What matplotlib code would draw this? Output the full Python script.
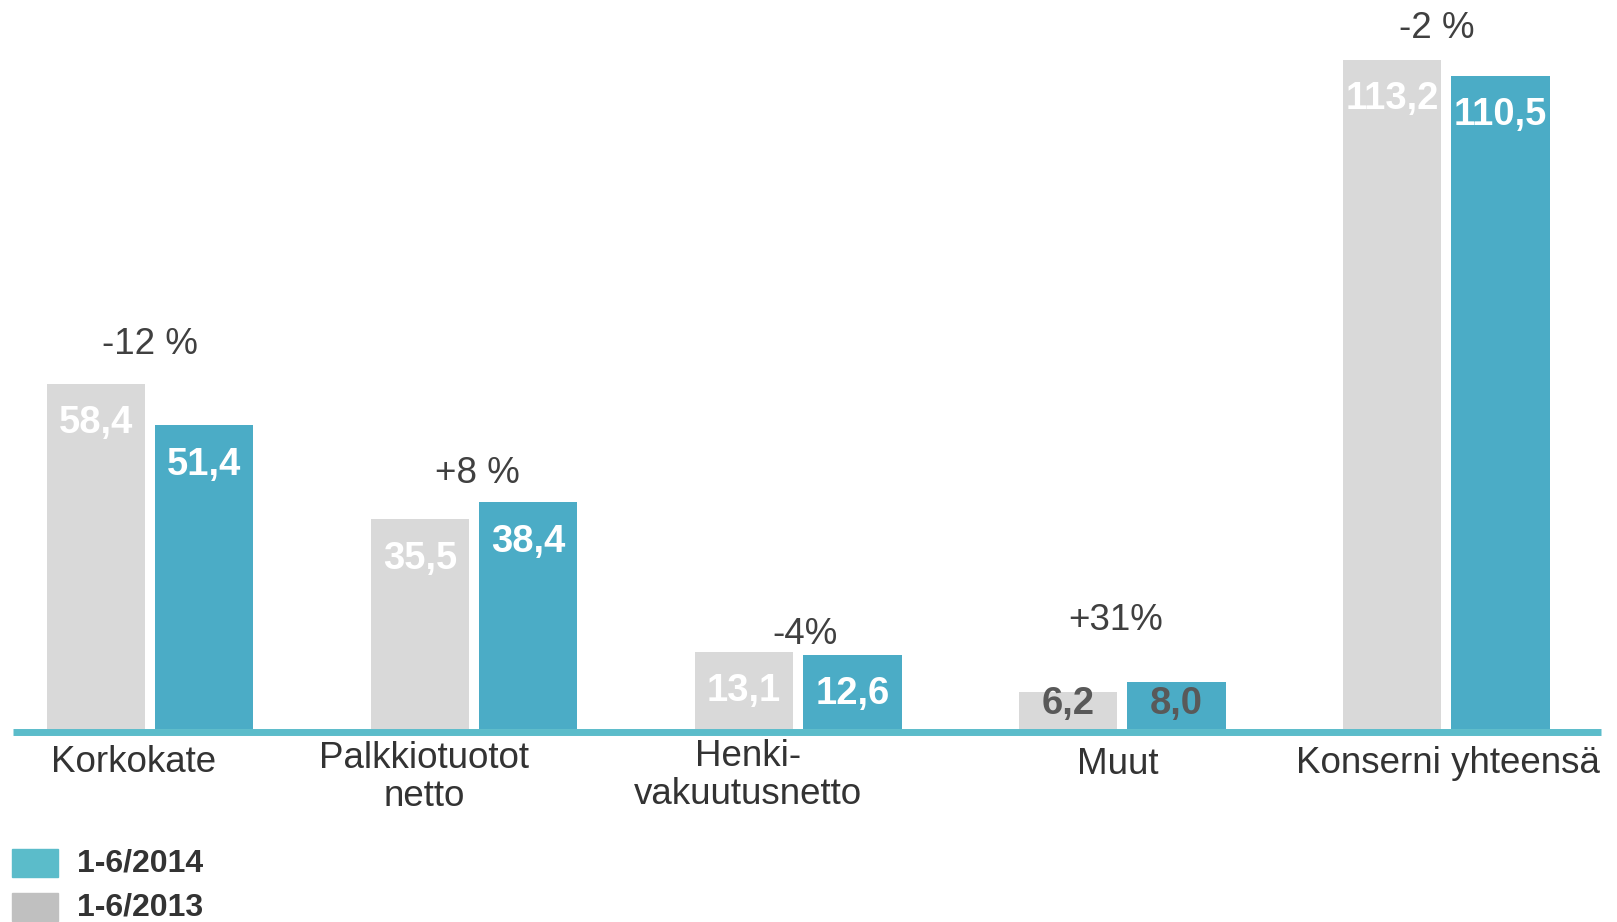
import matplotlib.pyplot as plt
from matplotlib.patches import Rectangle
import numpy as np

plt.rcParams['font.family'] = ['Liberation Sans', 'DejaVu Sans']

# tiedot
categories = ['Korkokate', 'Palkkiotuotot\nnetto', 'Henki-\nvakuutusnetto', 'Muut', 'Konserni yhteensä']
v2013 = [58.4, 35.5, 13.1, 6.2, 113.2]
v2014 = [51.4, 38.4, 12.6, 8.0, 110.5]
changes = ['-12 %', '+8 %', '-4%', '+31%', '-2 %']
series = ['1-6/2014', '1-6/2013']

# sijoittelu (layout)
change_pos = [(0.0, 65.1), (1.01, 43.3), (2.02, 16.0), (2.98, 18.4), (3.97, 118.5)]
cat_dx = [-0.05, -0.155, -0.155, -0.015, 0.005]
cat_y = [-2.7, -2.0, -1.7, -3.1, -2.8]

gray = '#d9d9d9'
teal = '#4bacc6'
line_col = '#5bbcca'
txt = '#333333'

fig = plt.figure(figsize=(16.17, 9.22), dpi=100)
ax = fig.add_axes([0.0064, 0.2093, 0.9836, 0.7907])

x = np.arange(len(categories))
w = 0.303
off = (w + 0.032) / 2
b1 = ax.bar(x - off, v2013, w, color=gray, zorder=2)
b2 = ax.bar(x + off, v2014, w, color=teal, zorder=2)

ax.set_xlim(-0.431, 4.477)
ax.set_ylim(0, 123.3)
ax.axis('off')
ax.plot([-0.422, 4.477], [-0.55, -0.55], color=line_col, lw=5.0, zorder=3,
        clip_on=False, solid_capstyle='butt')

def fmt(v):
    return f'{v:.1f}'.replace('.', ',')

for i in range(len(categories)):
    for xb, v in ((x[i] - off, v2013[i]), (x[i] + off, v2014[i])):
        if v < 10:
            ax.text(xb, 4.3, fmt(v), ha='center', va='center', fontsize=27.5,
                    fontweight='bold', color='#595959', zorder=4)
        else:
            ax.text(xb, v - 6.7, fmt(v), ha='center', va='center', fontsize=27.5,
                    fontweight='bold', color='white', zorder=4)
    cx, cy = change_pos[i]
    ax.text(cx, cy, changes[i], ha='center', va='center', fontsize=26.5, color='#404040')
    ax.text(x[i] + cat_dx[i], cat_y[i], categories[i], ha='center', va='top', fontsize=26.5,
            color=txt, linespacing=1.1, clip_on=False)

# selite
leg_cols = [line_col, '#c0c0c0']
leg_y = [849, 893]
for c, y0, lab in zip(leg_cols, leg_y, series):
    fig.add_artist(Rectangle((12 / 1617, 1 - (y0 + 28) / 922), 46 / 1617, 28 / 922,
                             transform=fig.transFigure, color=c))
    fig.text(77 / 1617, 1 - (y0 + 14) / 922, lab, ha='left', va='center', fontsize=23,
             fontweight='bold', color=txt)

fig.savefig('out.png', dpi=100)
